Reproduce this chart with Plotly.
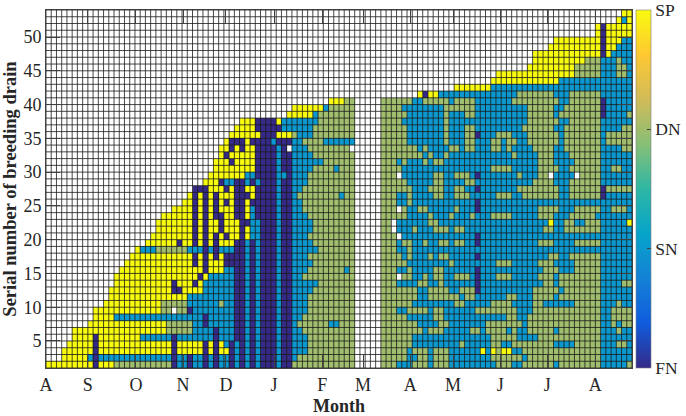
import plotly.graph_objects as go

# Run-length rows, bottom row first. W = no data, N = FN, B = SN, G = DN, Y = SP
rows_c01_28 = [
"Y9 N1 Y3 G11 N1 B2 N1","W3 Y5 B1 N1 B14 N1 B2 N1","W3 Y6 N1 Y14 N1 Y3","W4 Y5 N1 Y14 N1 Y3","W5 Y4 N1 Y8 B6 N1 B3",
"W5 Y18 G5","W8 Y15 G5","W9 Y4 B15","W9 Y13 G2 W1 G2 N1","W11 Y11 G5 B1",
"W12 Y15 B1","W12 Y12 N2 Y2","W13 Y11 N1 Y3","W13 Y15","W14 Y14",
"W15 Y13","W16 Y12","W17 Y1 B3 G6 B1","W19 Y6 N1 Y2","W20 Y8",
"W21 Y7","W21 Y7","W22 Y6","W24 Y4","W26 Y2","W27 Y1",
]
rows_c29_59 = [
"B2 N1 B1 N1 B2 N1 B1 N1 B1 N1 B1 N3 B1 N2 G12",
"B2 N1 B1 N1 B2 N1 B1 N1 B1 N1 B1 N3 B1 N2 B1 G11",
"Y2 N1 Y1 N1 Y2 N1 B1 N1 B1 N1 B1 N3 B1 N2 B3 G9",
"Y2 N1 Y1 N1 Y1 B1 N1 B1 N1 B1 N1 B1 N3 B1 N2 B3 G9",
"B4 N1 B3 N2 B1 N1 B1 N3 B1 N2 B3 G9",
"B4 N1 B3 N2 B1 N1 B1 N3 B1 N2 B2 G10",
"B2 N1 B5 N2 B1 N1 B1 N3 B1 N2 B1 G6 B2 G3",
"B2 N1 B5 N2 B1 N1 B1 N3 B1 N2 B2 G10",
"B8 N2 B1 N1 B1 N3 B1 N2 B3 G9",
"B5 G1 B2 N2 B1 N1 B1 N3 B1 N2 B3 G9",
"B8 N2 B1 N1 B1 N3 B1 N2 B3 G9",
"Y2 B6 N2 B1 N1 B1 N3 B1 N2 B4 G8",
"N1 Y1 B6 N2 B1 N1 B1 N3 B1 N2 B5 G7",
"Y1 N1 Y1 B5 N2 B1 N1 B1 N3 B1 N2 B2 G10",
"Y2 N1 Y3 B2 N2 B1 N1 B1 N3 B1 N2 B3 G7 B1 G1",
"N1 Y1 N1 Y3 N2 N2 B1 N1 B1 N3 B1 N2 B4 G8",
"N1 Y1 N1 Y1 N1 Y1 N2 N2 B1 N1 B1 N3 B1 N2 B3 G9",
"B2 N1 B1 N1 B3 N2 B1 N1 B1 N3 B1 N2 B5 G7",
"N1 Y1 N1 Y1 N1 Y3 N2 B1 N1 B1 N3 B1 N2 B4 G8",
"N1 Y1 N1 Y1 N1 Y1 N1 Y2 N1 Y1 B2 N3 B1 N2 B3 G9",
"N1 Y1 N1 Y2 N1 Y3 N1 Y1 B2 N3 B1 N2 B4 G8",
"N1 Y1 N1 Y2 N1 Y3 N2 B2 N3 B1 N2 B4 G8",
"N1 Y1 N1 Y1 N2 Y2 N2 Y1 B1 N4 B1 N2 B3 G9",
"N1 Y1 N1 Y1 N1 Y3 N2 Y1 B1 N4 B1 N2 B2 G10",
"N1 Y1 N1 Y1 N1 Y1 N1 Y1 N2 Y1 N5 B1 N2 B2 G10",
"N1 Y1 N1 Y1 N1 Y3 N3 Y1 N4 B1 N2 B1 G8 B1 G2",
"N3 Y3 N1 Y1 N2 Y2 N4 B1 N2 B2 G10",
"W2 Y3 N1 B2 N2 B1 N1 B1 N3 B1 N2 B3 G9",
"W3 Y5 Y2 B2 N4 B2 N1 B3 G9",
"W4 Y4 Y4 N4 B1 N2 B4 G4 B1 G3",
"W4 Y3 N1 Y4 N4 B1 N2 B6 G6",
"W5 Y1 N1 Y1 Y4 N4 B1 N2 B4 G8",
"W5 Y2 N1 Y1 N1 Y2 N4 B1 N1 W1 B3 G8 W1",
"W6 Y1 N1 N2 Y1 N4 B1 N3 B2 G4 B6",
"W7 Y1 Y5 N3 Y3 G1 B3 G8",
"W8 Y4 N5 B6 G8",
"W9 Y3 N4 Y1 B7 G7",
"W18 Y5 B1 G7",
"W19 Y6 B1 G5",
"W26 Y3 G2",
]
rows_c65_85 = [
"G3 B3 G3 B1 G3 B8","G5 B2 G2 B1 G3 B8","G5 B1 G3 B1 G3 B6 Y1 B1","G6 B9 G1 B5","G6 B15",
"G8 B1 G3 B5 G2 B1 G1","G7 B4 G2 B7 G1","G5 B5 G2 B9","G3 B2 G4 B1 G2 B6 G3","G6 B8 G2 B5",
"G7 B2 G6 B1 G2 B3","G7 B2 G4 B2 G3 N1 B2","G3 B4 G2 B2 G1 B6 N1 B2","G3 W1 G2 B2 G1 B1 G2 B2 G3 B1 N1 B2","G3 B2 G1 B4 G2 B6 N1 B2",
"G5 B8 G1 B7","G4 B1 G1 B3 G1 B1 G2 B5 N1 B2","G3 B2 G1 B15","G3 B1 G2 B2 G1 B2 G2 B1 G2 B2 N1 B2","G3 W1 B14 N1 B2",
"G2 W1 B3 G1 B3 G3 B1 G2 B5","G2 W1 B6 G2 B10","G5 B4 G1 B3 G1 B3 G1 B3","G3 W1 G1 B2 G2 B5 G1 B3 N1 B2","G3 B2 G1 B12 N1 B2",
"G3 B2 G1 B4 G2 B2 G3 B4","G6 B3 G3 B2 G2 B2 N1 B2","G5 B5 G2 B4 G2 B3","G3 W1 B6 G2 B2 G3 B1 N1 B2","G4 B17",
"G3 B1 G1 B3 G1 B1 G2 B9","G8 B1 G1 B2 G1 B8","G7 B1 G1 B4 G2 B1 G2 B3","G5 B7 G1 B3 G2 B3","G5 B7 G1 B3 G2 N1 B2",
"G5 B7 G1 B3 G2 B3","G4 B8 G1 B8","G5 B7 G1 B3 G2 B3","G4 B8 G6 B3","G6 B2 G5 B1 G4 B3",
"W7 Y1 N1 Y2 B10","W14 Y7",
]
rows_c86_112 = [
"B1 G3 B2 G6 B1 G8 B5 G1","G6 B1 G14 B6","Y1 G1 Y2 B2 G15 B6","G2 B2 G8 B4 G5 B3 G2 B1","G5 B4 G12 B6",
"G3 B1 G1 B2 G5 B1 G8 B3 G1 B2","G6 B1 G14 B2 G1 B1 G2","B3 G2 B2 G14 B2 G4","G5 B3 G5 G8 B2 G4","G4 B4 G2 B6 G5 B3 G1 B2",
"B3 G2 B3 G4 B1 G8 B6","B8 G5 B1 G7 B6","B10 G2 B1 G8 B4 G2","B1 G3 B5 G3 B1 G8 B6","B10 G3 B3 G5 B6",
"B1 G3 B5 G3 B4 G5 B6","B11 G2 B2 G6 B6","B27","B9 G3 B4 G5 B6","B27",
"B10 G2 B2 G7 B6","B11 Y1 B2 G2 B2 G3 B5 Y1","G4 B5 G3 B3 G5 B7","B9 G4 B3 G5 B2 G3 B1","B27",
"B1 G3 B2 G7 B2 G6 N1 B5","B5 G8 B2 G6 N1 G5","B8 G4 B3 G6 B6","B5 G1 B3 G2 W1 B4 W1 G4 B6","G4 B5 G4 B2 G6 B2 G2 B2",
"B9 G3 B4 G5 B6","B4 G1 B4 G3 B3 G6 B6","G2 B1 G1 B4 G4 B2 G7 B4 G2","G2 B1 G2 B2 G6 B1 G7 B1 G5","B1 G3 B3 G6 B1 G7 B1 G5",
"B6 G6 B2 G7 B4 G2","B7 G6 B2 G6 B6","B7 G5 B1 G8 N1 B4 G1","B7 G5 B2 G7 N1 B5","B4 G9 B2 G6 N1 B5",
"B5 G7 B3 G6 B6","B27","Y13 B14","W1 Y15 G5 B3 G2 B1","W7 Y9 G5 B3 G2 B1",
"W8 Y10 G3 B3 G1 B2","W8 Y13 N1 Y1 B4","W11 Y10 N1 Y2 B3","W12 Y9 N1 Y3 B2","W20 Y1 N1 Y5",
"W20 Y1 N1 Y5","W24 Y1 B1 Y1","W25 Y2",
]
cat_value = {"W": None, "N": 0, "B": 1, "G": 2, "Y": 3}
x_tick_values = [1, 9, 18.2, 27.2, 35.4, 44.6, 53.8, 61.6, 70.6, 78.8, 87.8, 96.8, 106]
x_tick_labels = ["A", "S", "O", "N", "D", "J", "F", "M", "A", "M", "J", "J", "A"]
y_tick_values = [5, 10, 15, 20, 25, 30, 35, 40, 45, 50]
class_labels = ["FN", "SN", "DN", "SP"]
parula = ["#352a87", "#0f5cdd", "#1481d6", "#06a4ca", "#2eb7a4", "#87bf77", "#d1bb59", "#fec832", "#f9fb0e"]
N_COLS, N_ROWS = 112, 53
FONT = "Liberation Serif"


def decode(rows, index, width):
    out = []
    if index < len(rows):
        for run in rows[index].split():
            out += [cat_value[run[0]]] * int(run[1:])
    return (out + [None] * width)[:width]


z = []
for r in range(N_ROWS):
    z.append(decode(rows_c01_28, r, 28) + decode(rows_c29_59, r, 31) + [None] * 5
             + decode(rows_c65_85, r, 21) + decode(rows_c86_112, r, 27))

x_edges = list(range(1, N_COLS + 2))
y_edges = list(range(1, N_ROWS + 2))

grid_x, grid_y = [], []
for e in x_edges:
    grid_x += [e, e, None]
    grid_y += [y_edges[0], y_edges[-1], None]
for e in y_edges:
    grid_x += [x_edges[0], x_edges[-1], None]
    grid_y += [e, e, None]

fig = go.Figure()
fig.add_trace(go.Heatmap(
    x=x_edges, y=y_edges, z=z, zmin=0, zmax=3,
    colorscale=[[i / (len(parula) - 1), c] for i, c in enumerate(parula)],
    hoverongaps=False, hoverinfo="skip",
    colorbar=dict(
        x=1.0068, xanchor="left", y=0.5, yanchor="middle", len=1, lenmode="fraction",
        thickness=15, thicknessmode="pixels", outlinewidth=0.6, outlinecolor="#808080",
        tickmode="array", tickvals=[0, 1, 2, 3], ticktext=class_labels,
        ticks="inside", ticklen=4, tickcolor="#404040", tickwidth=1,
        tickfont=dict(family=FONT, size=17.5, color="#262626"), xpad=0, ypad=0,
    ),
))
fig.add_trace(go.Scatter(
    x=grid_x, y=grid_y, mode="lines", hoverinfo="skip", showlegend=False,
    line=dict(color="#1a1a1a", width=0.8),
))
axis_common = dict(
    showgrid=False, zeroline=False, showline=True, linecolor="#404040", linewidth=1,
    mirror="allticks", ticks="inside", ticklen=14, tickcolor="#404040", tickwidth=1,
    tickfont=dict(family=FONT, size=18, color="#262626"), automargin=False,
)
fig.update_xaxes(
    range=[1, N_COLS + 1], tickmode="array", tickvals=x_tick_values, ticktext=x_tick_labels,
    title=dict(text="<b>Month</b>", font=dict(family=FONT, size=18, color="#262626")),
    **axis_common,
)
fig.update_yaxes(
    range=[1, N_ROWS + 1], tickmode="array", tickvals=y_tick_values,
    title=dict(text="<b>Serial number of breeding drain</b>", font=dict(family=FONT, size=18.5, color="#262626")),
    **axis_common,
)
fig.update_layout(
    width=686, height=416, autosize=False, showlegend=False,
    paper_bgcolor="white", plot_bgcolor="white",
    margin=dict(l=46, r=54, t=10, b=48, autoexpand=False),
)
fig.write_html(
    "out.html",
    config={"displayModeBar": False},
    post_script="document.body.style.margin='0';document.body.style.overflow='hidden';",
)
